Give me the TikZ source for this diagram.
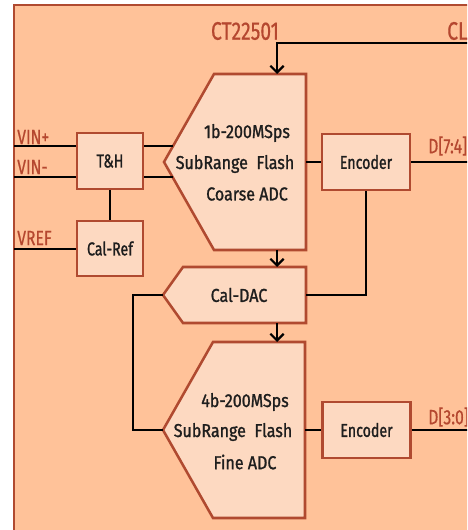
\documentclass[tikz,border=0pt]{standalone}
\usepackage{fontspec}
\setmainfont[FakeStretch=0.76,FakeBold=1.2]{Fira Sans}
\newfontfamily\adcfont[FakeStretch=0.86,FakeBold=1.2]{Fira Sans}
\newfontfamily\lblfont[FakeStretch=0.76,FakeBold=0.6]{Fira Sans}
\usetikzlibrary{arrows.meta}
\definecolor{bg}{HTML}{FFC299}
\definecolor{boxfill}{HTML}{FDD9C1}
\definecolor{edge}{HTML}{B04A30}
\definecolor{lbl}{HTML}{B5472F}
\definecolor{ink}{HTML}{1E1E1E}
\begin{document}
\begin{tikzpicture}[x=0.75pt,y=-0.75pt,
  blk/.style={draw=edge,fill=boxfill,line width=1.9pt,line join=miter},
  rbox/.style={blk,minimum height=42pt,inner sep=0pt,text=ink,font=\fontsize{14}{16}\selectfont},
  wire/.style={draw=black,line width=1.6pt},
  arr/.style={wire,-{Straight Barb[length=5pt,width=10pt,line width=1.6pt]}},
  sig/.style={text=lbl,inner sep=0pt,font=\lblfont\fontsize{15.5}{17}\selectfont},
  bigsig/.style={text=lbl,inner sep=0pt,font=\lblfont\fontsize{19}{21}\selectfont},
  adctxt/.style={text=ink,inner sep=0pt,font=\adcfont\fontsize{14}{16}\selectfont}]
\useasboundingbox (0,0) rectangle (467,530);
\clip (0,0) rectangle (467,530);
% outer block
\path[fill=bg,draw=edge,line width=1.8pt] (14,5) rectangle (500,560);
% ADC shapes
\path[blk] (214,74) -- (306,74) -- (306,250) -- (214,250) -- (164,162) -- cycle;
\path[blk] (183,267) -- (306,267) -- (306,323) -- (183,323) -- (163,295) -- cycle;
\path[blk] (213,342) -- (305,342) -- (305,518) -- (213,518) -- (163,430) -- cycle;
% named points on the shapes
\coordinate (coarseT) at (277,74);
\coordinate (coarseB) at (277,250);
\coordinate (coarseR) at (306,162);
\coordinate (cin1) at (173,146);
\coordinate (cin2) at (173,177);
\coordinate (dacT) at (277,267);
\coordinate (dacB) at (277,323);
\coordinate (dacR) at (306,295);
\coordinate (dacL) at (163,295);
\coordinate (fineT) at (277,342);
\coordinate (fineR) at (305,430);
\coordinate (fineL) at (163,430);
\coordinate (loopx) at (133,295);
% free ends
\coordinate (clkin) at (470,43);
\coordinate (vinp) at (14,146);
\coordinate (vinm) at (14,177);
\coordinate (vref) at (14,249);
\coordinate (dout1) at (470,162);
\coordinate (dout2) at (470,430);
% boxes
\node[rbox,minimum width=49.5pt] (th) at (110,161) {T\&H};
\node[rbox,minimum width=49.5pt,minimum height=41pt] (calref) at (110,248.5) {Cal-Ref};
\node[rbox,minimum width=66pt] (enc1) at (366,162) {Encoder};
\node[rbox,minimum width=66pt] (enc2) at (366.5,430) {Encoder};
% ADC texts
\node[adctxt] (c1) at (247,133) {1b-200MSps};
\node[adctxt] (c2) at (235,164) {SubRange\ \ Flash};
\node[adctxt] (c3) at (247,194) {Coarse ADC};
\node[adctxt] (d1) at (239,295) {Cal-DAC};
\node[adctxt] (f1) at (245,402) {4b-200MSps};
\node[adctxt] (f2) at (233,432) {SubRange\ \ Flash};
\node[adctxt] (f3) at (245,462) {Fine ADC};
% labels
\node[bigsig] (chip) at (245,31) {CT22501};
\node[bigsig,anchor=west] (clk) at (447,31) {CLK};
\node[sig,anchor=west] (lvinp) at (17,137) {VIN+};
\node[sig,anchor=west] (lvinm) at (17,167) {VIN-};
\node[sig,anchor=west] (lvref) at (17,238) {VREF};
\node[sig,anchor=west] (ld1) at (428,146) {D[7:4]};
\node[sig,anchor=west] (ld2) at (428,417) {D[3:0]};
% connectors
\draw[arr] (clkin) -| (coarseT);
\draw[wire] (vinp) -- (vinp -| th.west);
\draw[wire] (vinm) -- (vinm -| th.west);
\draw[wire] (cin1 -| th.east) -- (cin1);
\draw[wire] (cin2 -| th.east) -- (cin2);
\draw[wire] (th.south) -- (calref.north);
\draw[wire] (vref) -- (vref -| calref.west);
\draw[wire] (coarseR) -- (enc1.west);
\draw[wire] (enc1.east) -- (dout1);
\draw[wire] (enc1.south) |- (dacR);
\draw[arr] (coarseB) -- (dacT);
\draw[wire] (dacL) -- (loopx) |- (fineL);
\draw[arr] (dacB) -- (fineT);
\draw[wire] (fineR) -- (enc2.west);
\draw[wire] (enc2.east) -- (dout2);
\end{tikzpicture}
\end{document}
